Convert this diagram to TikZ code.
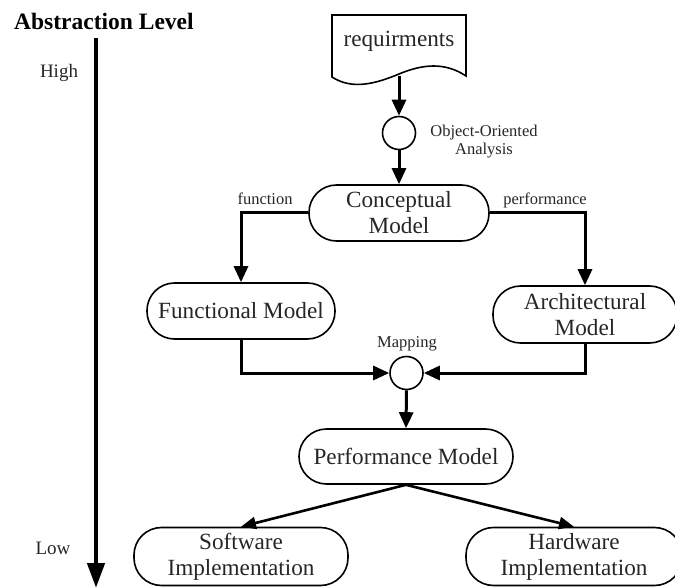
\documentclass[tikz,border=0pt]{standalone}
\usepackage{fontspec}
\setmainfont{Liberation Serif}
\usetikzlibrary{arrows.meta}
\begin{document}
\begin{tikzpicture}[x=1pt,y=-1pt,
  txt/.style={text=black!85, inner sep=0pt},
  bigfont/.style={font=\fontsize{23.2}{26}\selectfont},
  smallfont/.style={font=\fontsize{16.5}{18}\selectfont},
  stadium/.style={draw, line width=1.6pt, rounded corners=27.5pt, txt, bigfont,
    align=center, minimum height=56pt},
  junction/.style={draw, circle, line width=1.6pt, minimum size=33pt, inner sep=0pt},
  flow/.style={line width=3pt, -{Triangle[length=16pt,width=14pt]}},
  slant/.style={line width=2.6pt, -{Triangle[length=15pt,width=12pt]}},
  lbl/.style={txt, smallfont, align=center}
]
\useasboundingbox (0,0) rectangle (675,588);

% abstraction axis
\node[anchor=base west, inner sep=0pt, font=\fontsize{23.5}{26}\selectfont\bfseries] (title) at (14,30) {Abstraction Level};
\coordinate (axtop) at (96,38);
\coordinate (axbot) at (96,588);
\draw[line width=4.5pt, -{Triangle[length=25pt,width=17pt]}] (axtop) -- (axbot);
\node[txt, anchor=base, font=\fontsize{19}{22}\selectfont] (high) at (59,78) {High};
\node[txt, anchor=base, font=\fontsize{19}{22}\selectfont] (low) at (53,554) {Low};

% requirements document
\draw[line width=1.6pt] (332,15) -- (466,15) -- (466,76)
  .. controls (445,62) and (423,64) .. (399,74)
  .. controls (375,84) and (352,90) .. (332,77) -- cycle;
\node[txt, bigfont, anchor=base] (req) at (399,47) {requirments};
\coordinate (reqbot) at (399,76);

% nodes
\node[junction] (ooa) at (399,133) {};
\node[lbl, anchor=center] (ooalbl) at (484,142) {Object-Oriented\\Analysis};
\node[stadium, minimum width=180pt] (cm) at (399,213) {Conceptual\\Model};
\node[stadium, minimum width=188pt] (fm) at (241,311) {Functional Model};
\node[stadium, minimum width=184pt, minimum height=57pt] (am) at (585,314.5) {Architectural\\Model};
\node[junction] (map) at (406.5,373) {};
\node[lbl] (maplbl) at (407,344) {Mapping};
\node[stadium, minimum width=214pt, minimum height=55pt] (pm) at (406,456.5) {Performance Model};
\node[stadium, minimum width=214pt, minimum height=58pt] (sw) at (241,556.5) {Software\\Implementation};
\node[stadium, minimum width=216pt, minimum height=58pt] (hw) at (574,556.5) {Hardware\\Implementation};

% labels on branches
\node[lbl] (fnlbl) at (265,199) {function};
\node[lbl] (pflbl) at (545,200) {performance};

% connectors
\draw[flow] (reqbot) -- (ooa.north);
\draw[flow] (ooa.south) -- (cm.north);
\draw[flow] (cm.west) -| (fm.north);
\draw[flow] (cm.east) -| (am.north);
\draw[flow] (fm.south) |- (map.west);
\draw[flow] (am.south) |- (map.east);
\draw[flow] (map.south) -- (pm.north);
\draw[slant] (pm.south) -- (sw.north);
\draw[slant] (pm.south) -- (hw.north);
\end{tikzpicture}
\end{document}
